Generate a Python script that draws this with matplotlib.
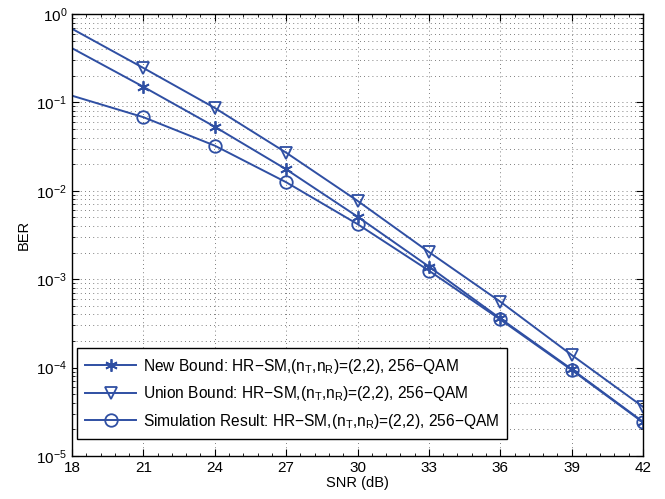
import matplotlib
matplotlib.use("Agg")
import matplotlib.pyplot as plt
from matplotlib.ticker import LogLocator, MultipleLocator, NullFormatter

plt.rcParams['font.family'] = ['Liberation Sans', 'DejaVu Sans']
plt.rcParams['mathtext.fontset'] = 'custom'
plt.rcParams['mathtext.rm'] = 'Liberation Sans'
plt.rcParams['mathtext.it'] = 'Liberation Sans'

snr = [18, 21, 24, 27, 30, 33, 36, 39, 42]
new_bound = [0.41, 0.15, 0.053, 0.0175, 0.0051, 1.39e-3, 3.6e-4, 9.6e-5, 2.44e-5]
union_bound = [0.68, 0.245, 0.0865, 0.027, 0.0077, 2.03e-3, 5.57e-4, 1.39e-4, 3.6e-5]
simulation = [0.119, 0.068, 0.0324, 0.0125, 0.0042, 1.25e-3, 3.5e-4, 9.4e-5, 2.4e-5]

sub = '(n$_{\\mathregular{T}}$,n$_{\\mathregular{R}}$)=(2,2), 256\u2212QAM'
labels = [
    'New Bound: HR\u2212SM,' + sub,
    'Union Bound: HR\u2212SM,' + sub,
    'Simulation Result: HR\u2212SM,' + sub,
]

color = '#2f4fa3'

fig = plt.figure(figsize=(6.65, 4.99), dpi=100)
ax = fig.add_axes([0.1083, 0.0862, 0.8586, 0.8858])

series = [(new_bound, (6, 2, 0), 9), (union_bound, 'v', 9), (simulation, 'o', 9)]
for (vals, mk, ms), lab in zip(series, labels):
    # line starts at 18 dB, markers only from 21 dB on
    ax.semilogy(snr, vals, '-', color=color, lw=1.4, marker=mk, ms=ms,
                mfc='none', mec=color, mew=1.3, markevery=list(range(1, len(snr))),
                label=lab)

ax.set_xlim(18, 42)
ax.set_ylim(1e-5, 1)
ax.xaxis.set_major_locator(MultipleLocator(3))
ax.xaxis.set_minor_locator(MultipleLocator(0.6))
ax.yaxis.set_major_locator(LogLocator(base=10, numticks=10))
ax.yaxis.set_minor_locator(LogLocator(base=10, subs=range(2, 10), numticks=20))
ax.yaxis.set_minor_formatter(NullFormatter())

ax.grid(True, which='major', axis='both', linestyle=(0, (1, 4)), color='#555555', lw=0.6)
ax.grid(True, which='minor', axis='y', linestyle=(0, (1, 4)), color='#555555', lw=0.6)

ax.tick_params(which='both', direction='in', top=True, right=True, labelsize=11)
ax.tick_params(which='major', length=5)
ax.tick_params(which='minor', length=2.5)
for s in ax.spines.values():
    s.set_linewidth(1.0)

ax.set_xlabel('SNR (dB)', fontsize=10.5, labelpad=1)
ax.set_ylabel('BER', fontsize=10.5)

leg = ax.legend(loc='lower left', bbox_to_anchor=(0.008, 0.038), borderaxespad=0,
                fontsize=11.2, fancybox=False, framealpha=1, edgecolor='black',
                handlelength=3.3, handletextpad=0.4, borderpad=0.55, labelspacing=0.55)
leg.get_frame().set_linewidth(1.0)

fig.savefig('out.png', dpi=100)
